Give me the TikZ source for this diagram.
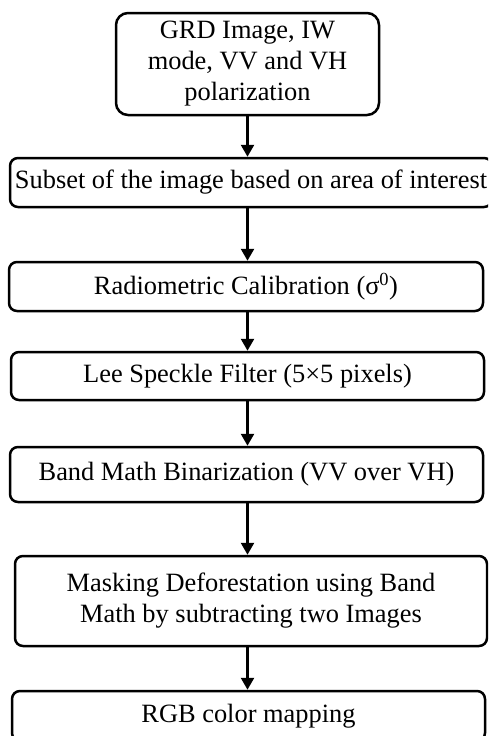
\documentclass[tikz,border=0pt]{standalone}
\usepackage{fontspec}
\setmainfont{Liberation Serif}
\usetikzlibrary{arrows.meta}
\begin{document}
\begin{tikzpicture}[x=1pt,y=-1pt,
  box/.style={draw=black, line width=2.5pt, rounded corners=8pt, fill=white, inner sep=0pt, align=center,
    font=\fontsize{26.4}{31}\selectfont},
  arr/.style={line width=2.5pt, -{Triangle[length=12pt,width=13pt]}}]
\useasboundingbox (0,0) rectangle (488,736);
\clip (0,0) rectangle (488,736);
\node[box, rounded corners=12pt, minimum width=263pt, minimum height=102pt] (b1) at (247.5,64) {GRD Image, IW\\mode, VV and VH\\polarization};
\node[box, minimum width=482pt, minimum height=49pt] (b2) at (251,182.5) {Subset of the image based on area of interest};
\node[box, minimum width=474pt, minimum height=49pt] (b3) at (246,286.5) {Radiometric Calibration (σ\textsuperscript{0})};
\node[box, minimum width=473pt, minimum height=48pt] (b4) at (247.5,376) {Lee Speckle Filter (5×5 pixels)};
\node[box, minimum width=473pt, minimum height=55pt] (b5) at (246.5,474.5) {Band Math Binarization (VV over VH)};
\node[box, minimum width=472pt, minimum height=90pt] (b6) at (251,601) {Masking Deforestation using Band\\Math by subtracting two Images};
\node[box, minimum width=473pt, minimum height=50pt] (b7) at (248.5,716) {RGB color mapping};
\draw[arr] (b1.south) -- (b1.south |- b2.north);
\draw[arr] (b1.south |- b2.south) -- (b1.south |- b3.north);
\draw[arr] (b1.south |- b3.south) -- (b1.south |- b4.north);
\draw[arr] (b1.south |- b4.south) -- (b1.south |- b5.north);
\draw[arr] (b1.south |- b5.south) -- (b1.south |- b6.north);
\draw[arr] (b1.south |- b6.south) -- (b1.south |- b7.north);
\end{tikzpicture}
\end{document}
